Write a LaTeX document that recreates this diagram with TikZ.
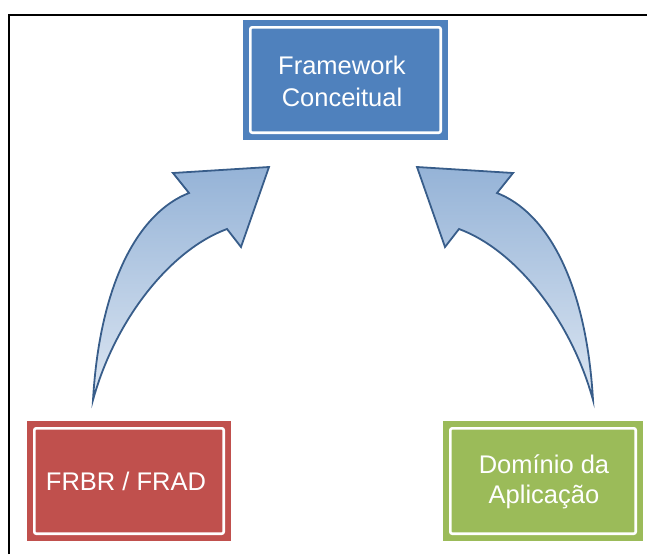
\documentclass[tikz,border=0pt]{standalone}
\usepackage{fontspec}
\setmainfont{Liberation Sans}
\definecolor{boxblue}{RGB}{79,129,189}
\definecolor{boxred}{RGB}{192,80,77}
\definecolor{boxgreen}{RGB}{155,187,89}
\definecolor{arrowline}{RGB}{56,93,138}
\definecolor{arrowtop}{RGB}{149,179,215}
\definecolor{arrowbot}{RGB}{220,230,242}
\tikzset{
  colbox/.style={rectangle, fill=#1, draw=none, minimum width=204pt, minimum height=120pt, inner sep=0pt},
  boxlabel/.style={text=white, align=center, font=\fontsize{25.5}{30}\selectfont, inner sep=0pt},
  innerframe/.style={draw=white, line width=2.6pt, rounded corners=2pt},
  bentarrow/.pic={
    \draw[arrowline, line width=1.8pt, line join=miter, top color=arrowtop, bottom color=arrowbot]
      (-250,400) .. controls (-243,280) and (-203,212) .. (-154,193)
      -- (-170,173) -- (-74,167) -- (-102,247) -- (-116,229)
      .. controls (-173,250) and (-228,320) .. (-250,400) -- cycle;
  }
}
\begin{document}
\begin{tikzpicture}[x=1pt, y=-1pt]
\useasboundingbox (0,0) rectangle (647,554);
% frame
\draw[line width=2pt] (9,554) -- (9,15) -- (647,15);
% boxes
\node[colbox=boxblue, minimum width=205pt] (fw) at (345.5,80) {};
\node[boxlabel] (fwlabel) at (342,81) {Framework\\[2pt]Conceitual};
\node[colbox=boxred] (frbr) at (129,481) {};
\node[boxlabel] (frbrlabel) at (126,481) {FRBR / FRAD};
\node[colbox=boxgreen, minimum width=200pt] (dom) at (543,481) {};
\node[boxlabel] (domlabel) at (544,482) {Domínio da\\Aplicação};
\foreach \n in {fw,frbr,dom}{
  \draw[innerframe] ([shift={(7.5,7.5)}]\n.north west) rectangle ([shift={(-7.5,-7.5)}]\n.south east);
}
% curved arrows
\pic at (343,0) {bentarrow};
\pic[xscale=-1] at (343,0) {bentarrow};
\end{tikzpicture}
\end{document}
